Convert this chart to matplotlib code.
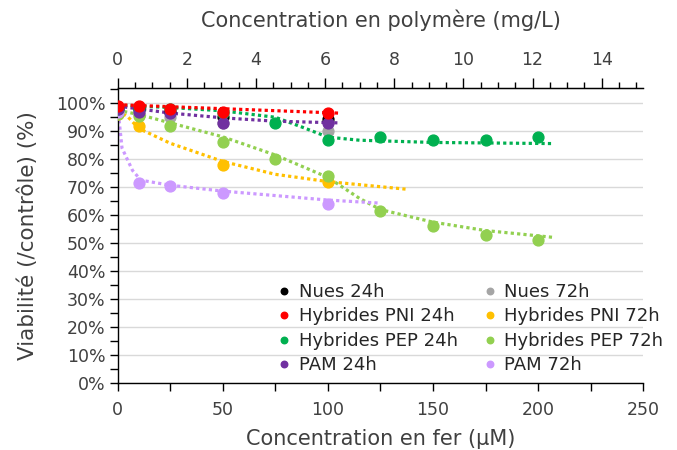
import matplotlib
matplotlib.use("Agg")
import matplotlib.pyplot as plt
from matplotlib.ticker import MultipleLocator, PercentFormatter, FixedLocator

plt.rcParams['font.family'] = ['DejaVu Sans']

# concentrations en fer (µM)
x_short = [0, 10, 25, 50, 100]
x_pni72 = [0, 10, 50, 100]
x_long = [0, 10, 25, 50, 75, 100, 125, 150, 175, 200]

# viabilité (%)
nues_24 = [98, 98, 97, 95, 94.5]
nues_72 = [97, 96, 95, 93, 90]
pni_24 = [99, 99, 98, 97, 96.5]
pni_72 = [96, 92, 78, 72]
pep_24 = [98, 98, 98, 96.5, 93, 87, 88, 87, 87, 88]
pep_72 = [96, 95.5, 92, 86, 80, 74, 61.5, 56, 53, 51]
pam_24 = [98, 97, 96.5, 93, 93]
pam_72 = [97, 71.5, 70.5, 68, 64]

# courbes de tendance (x, y)
tr_pni_24_x = [0, 105]
tr_pni_24_y = [99.5, 96.5]
tr_pam_24_x = [0, 10, 25, 50, 75, 105]
tr_pam_24_y = [99, 98, 96.5, 94.8, 93.6, 93]
tr_pep_24_x = [0, 25, 50, 75, 88, 100, 115, 150, 207]
tr_pep_24_y = [99.3, 98.5, 97.3, 95, 91.4, 87.9, 86.8, 86, 85.6]
tr_pni_72_x = [0, 5, 10, 25, 50, 75, 100, 137]
tr_pni_72_y = [97.5, 95, 91, 85.7, 79.2, 74.6, 72, 69.3]
tr_pep_72_x = [0, 10, 25, 50, 75, 100, 115, 125, 150, 175, 208]
tr_pep_72_y = [97.5, 96, 93, 88, 81.5, 73.5, 66, 62, 57.5, 54.5, 52]
tr_pam_72_x = [0, 2, 7, 11, 25, 50, 75, 100, 125]
tr_pam_72_y = [98.5, 84, 76, 72.5, 70.7, 68.6, 67, 65.4, 64.3]

c_nues24 = '#000000'
c_nues72 = '#A5A5A5'
c_pni24 = '#FF0000'
c_pni72 = '#FFC000'
c_pep24 = '#00B050'
c_pep72 = '#92D050'
c_pam24 = '#7030A0'
c_pam72 = '#CC99FF'

fig = plt.figure(figsize=(6.77, 4.5), dpi=100)
ax = fig.add_axes([0.174, 0.149, 0.776, 0.655])

txt = '#404040'
dot = (0, (1, 1))
lw = 2.3

# courbes de tendance
ax.plot(tr_pni_72_x, tr_pni_72_y, ls=dot, lw=lw, color=c_pni72, zorder=2)
ax.plot(tr_pep_72_x, tr_pep_72_y, ls=dot, lw=lw, color=c_pep72, zorder=2)
ax.plot(tr_pam_72_x, tr_pam_72_y, ls=dot, lw=lw, color=c_pam72, zorder=2)
ax.plot(tr_pep_24_x, tr_pep_24_y, ls=dot, lw=lw, color=c_pep24, zorder=2)
ax.plot(tr_pam_24_x, tr_pam_24_y, ls=dot, lw=lw, color=c_pam24, zorder=2)
ax.plot(tr_pni_24_x, tr_pni_24_y, ls=dot, lw=lw, color=c_pni24, zorder=2)

ms = 7.8
h_n24, = ax.plot(x_short, nues_24, 'o', ms=ms, color=c_nues24, label='Nues 24h', zorder=3)
h_n72, = ax.plot(x_short, nues_72, 'o', ms=ms, color=c_nues72, label='Nues 72h', zorder=3)
h_pni72, = ax.plot(x_pni72, pni_72, 'o', ms=ms, color=c_pni72, label='Hybrides PNI 72h', zorder=3)
h_pep72, = ax.plot(x_long, pep_72, 'o', ms=ms, color=c_pep72, label='Hybrides PEP 72h', zorder=3)
h_pam72, = ax.plot(x_short, pam_72, 'o', ms=ms, color=c_pam72, label='PAM 72h', zorder=3)
h_pep24, = ax.plot(x_long, pep_24, 'o', ms=ms, color=c_pep24, label='Hybrides PEP 24h', zorder=3)
h_pam24, = ax.plot(x_short, pam_24, 'o', ms=ms, color=c_pam24, label='PAM 24h', zorder=3)
h_pni24, = ax.plot(x_short, pni_24, 'o', ms=ms, color=c_pni24, label='Hybrides PNI 24h', zorder=3)

ax.set_xlim(0, 250)
ax.set_ylim(0, 105.4)
ax.xaxis.set_major_locator(MultipleLocator(50))
ax.xaxis.set_minor_locator(MultipleLocator(25))
ax.yaxis.set_major_locator(FixedLocator(list(range(0, 101, 10))))
ax.yaxis.set_minor_locator(FixedLocator(list(range(5, 106, 10))))
ax.yaxis.set_major_formatter(PercentFormatter(decimals=0))
ax.grid(axis='y', which='major', color='#D9D9D9', lw=1, zorder=0)
ax.set_axisbelow(True)

ax.spines['right'].set_visible(False)
for s in ['left', 'bottom', 'top']:
    ax.spines[s].set_color('#000000')
    ax.spines[s].set_linewidth(1)
ax.tick_params(axis='both', which='both', colors='#000000', labelcolor=txt,
               labelsize=12.5, length=6, width=1, direction='out')
ax.tick_params(axis='x', which='both', top=False, pad=7)
ax.tick_params(axis='y', which='both', pad=3)

ax.set_xlabel('Concentration en fer (µM)', fontsize=15, color=txt, labelpad=7)
ax.set_ylabel('Viabilité (/contrôle) (%)', fontsize=15.5, color=txt, labelpad=13)

k = 15.2 / 250
top = ax.secondary_xaxis('top', functions=(lambda v: v * k, lambda v: v / k))
top.xaxis.set_major_locator(FixedLocator(list(range(0, 15, 2))))
top.xaxis.set_minor_locator(FixedLocator([i * 0.5 for i in range(0, 31)]))
top.tick_params(which='major', length=7, width=1, labelsize=12.5, labelcolor=txt, pad=7)
top.tick_params(which='minor', length=4, width=1)
top.set_xlabel('Concentration en polymère (mg/L)', fontsize=15, color=txt, labelpad=17)

handles = [h_n24, h_pni24, h_pep24, h_pam24, h_n72, h_pni72, h_pep72, h_pam72]
ax.legend(handles=handles, ncol=2, frameon=False, fontsize=13, markerscale=0.6,
          handlelength=0.6, handletextpad=0.5, columnspacing=1.5, labelspacing=0.36,
          borderpad=0, loc='upper left', bbox_to_anchor=(0.289, 0.37),
          labelcolor='#262626')

fig.savefig('out.png', dpi=100)
